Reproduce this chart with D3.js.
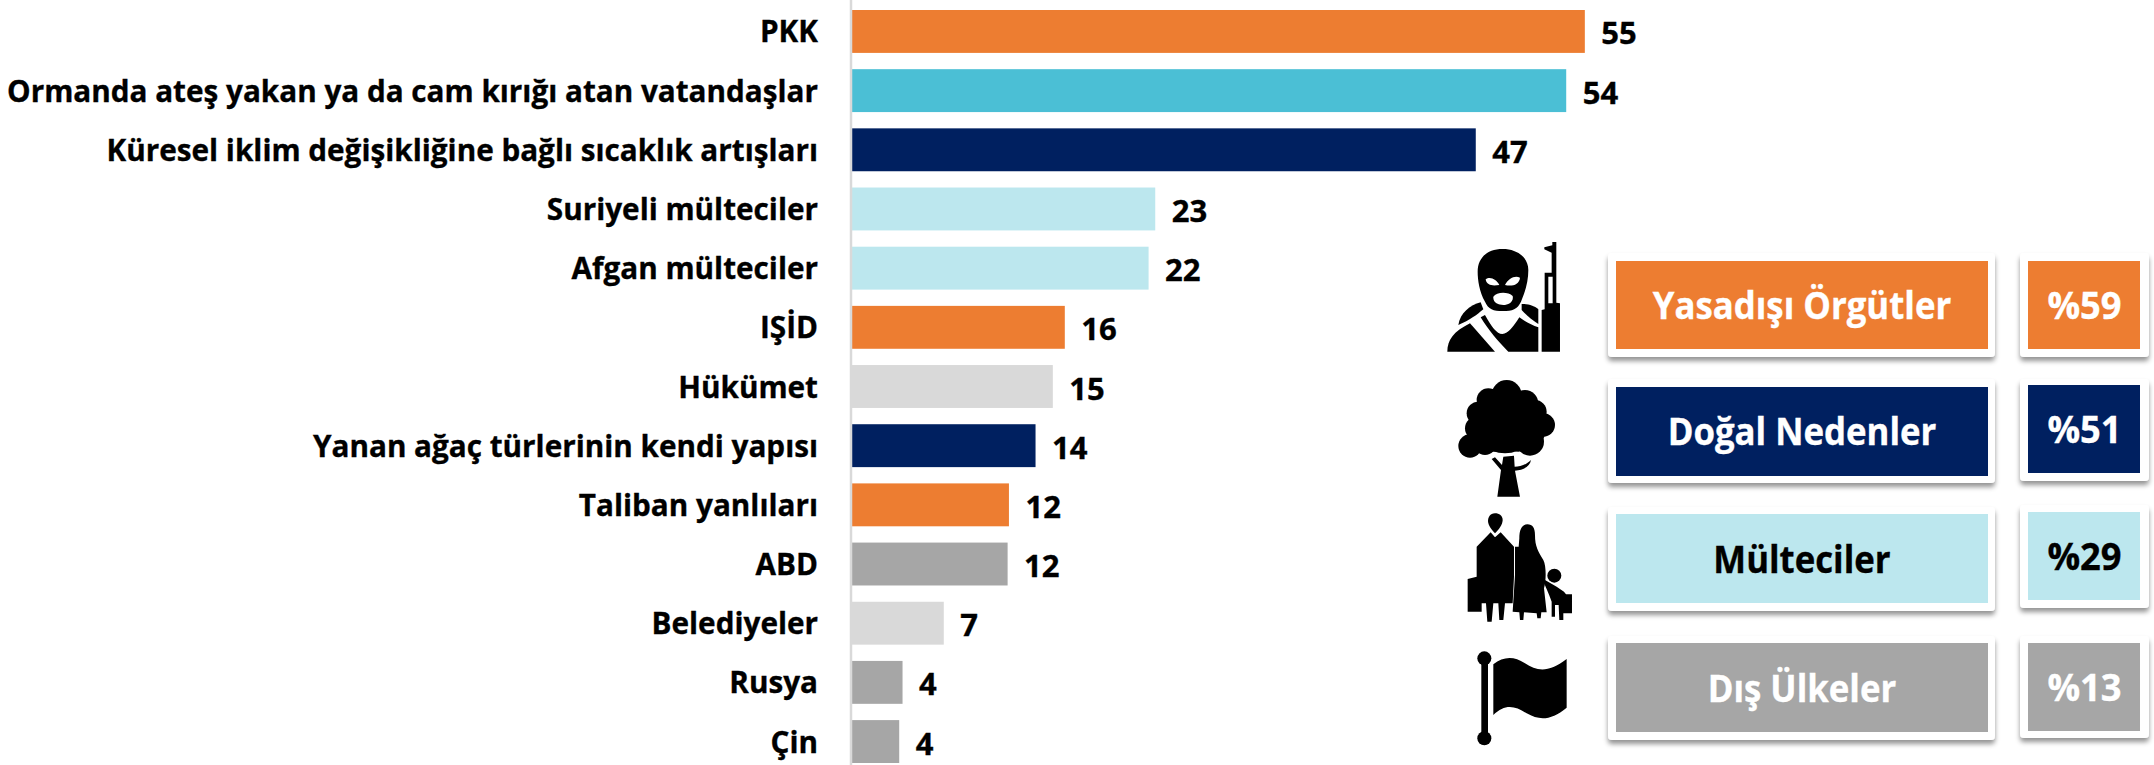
<!DOCTYPE html>
<html lang="tr">
<head>
<meta charset="utf-8">
<script src="https://cdn.jsdelivr.net/npm/d3@7"></script>
<style>
html,body{margin:0;padding:0;background:#fff;overflow:hidden}
svg{display:block}
text{font-family:"Open Sans",sans-serif;font-weight:700;paint-order:stroke;stroke-width:0.35px}
</style>
</head>
<body>
<svg id="chart" width="2154" height="765"></svg>
<script>
const categories = ["PKK","Ormanda ateş yakan ya da cam kırığı atan vatandaşlar","Küresel iklim değişikliğine bağlı sıcaklık artışları","Suriyeli mülteciler","Afgan mülteciler","IŞİD","Hükümet","Yanan ağaç türlerinin kendi yapısı","Taliban yanlıları","ABD","Belediyeler","Rusya","Çin"];
const values = [55.1,53.7,46.9,22.8,22.3,16.0,15.1,13.8,11.8,11.7,6.9,3.8,3.55];
const barColors = ["#ED7D31","#4BBFD5","#002060","#BCE7EE","#BCE7EE","#ED7D31","#D9D9D9","#002060","#ED7D31","#A6A6A6","#D9D9D9","#A6A6A6","#A6A6A6"];

const groupNames = ["Yasadışı Örgütler","Doğal Nedenler","Mülteciler","Dış Ülkeler"];
const groupShares = [59,51,29,13];
const groupFills = ["#ED7D31","#002060","#BCE7EE","#A6A6A6"];
const groupInks = ["#fff","#fff","#000","#fff"];

// layout of the side panel, top/bottom of card and inner fill, baselines
const nameCards = [[253,357,261,349,319],[379,483,387,476,445],[507,611,514,603,573],[636,740,643,732,702]];
const shareCards = [[253,357,261,349,319],[379,481,385,473,443],[505,608,512,600,570],[636,738,643,731,701]];
const iconTops = [230,370,505,635];

const svg = d3.select("#chart");

const defs = svg.append("defs");
const shadow = defs.append("filter").attr("id","cardShadow").attr("x","-10%").attr("y","-10%").attr("width","120%").attr("height","130%");
shadow.append("feDropShadow").attr("dx",0).attr("dy",4).attr("stdDeviation",2.5).attr("flood-color","#000").attr("flood-opacity",0.42);

const x = d3.scaleLinear().domain([0,60]).range([852,852+798]);
const y = d3.scaleBand().domain(categories).range([10,763]).paddingInner(0.275).paddingOuter(0);

svg.append("g").selectAll("rect").data(categories).join("rect")
  .attr("x",x(0)).attr("y",d=>y(d)).attr("height",y.bandwidth())
  .attr("width",(d,i)=>x(values[i])-x(0)).attr("fill",(d,i)=>barColors[i]);

const labelSx = 0.958, labelSize = 31;
const axis = svg.append("g").attr("transform",`translate(${x(0)-1},0)`)
  .call(d3.axisLeft(y).tickSize(0).tickPadding(33));
axis.select(".domain").attr("d","M0,0V765").attr("stroke","#D9D9D9").attr("stroke-width",2.5);
axis.selectAll("text")
  .attr("fill","#000").attr("stroke","#000").attr("font-size",labelSize).style("font-family",'"Open Sans",sans-serif').style("font-weight",700)
  .attr("dy",null).attr("y",11).attr("x",-33/labelSx).attr("transform",`scale(${labelSx},1)`);

const fmt = d3.format(".0f");
svg.append("g").selectAll("text").data(categories).join("text")
  .attr("transform",(d,i)=>`translate(${x(values[i])+16.5},${y(d)+y.bandwidth()/2+13}) scale(1,1)`)
  .attr("font-size",31).attr("fill","#000").attr("stroke","#000")
  .text((d,i)=>fmt(values[i]));

// side panel
const panel = svg.append("g");
function card(x0,x1,ix0,ix1,row,fill){
  panel.append("rect").attr("x",x0).attr("y",row[0]).attr("width",x1-x0).attr("height",row[1]-row[0])
    .attr("rx",4).attr("fill","#fff").attr("filter","url(#cardShadow)");
  panel.append("rect").attr("x",ix0).attr("y",row[2]).attr("width",ix1-ix0).attr("height",row[3]-row[2]).attr("fill",fill);
}
groupNames.forEach((name,i)=>{
  card(1608,1995,1616,1988,nameCards[i],groupFills[i]);
  card(2020,2149,2028,2140,shareCards[i],groupFills[i]);
  panel.append("text").attr("text-anchor","middle")
    .attr("transform",`translate(1802,${nameCards[i][4]}) scale(0.94,1)`)
    .attr("font-size",37).attr("fill",groupInks[i]).attr("stroke",groupInks[i]).text(name);
  panel.append("text").attr("text-anchor","middle")
    .attr("transform",`translate(2084.5,${shareCards[i][4]}) scale(0.98,1)`)
    .attr("font-size",37).attr("fill",groupInks[i]).attr("stroke",groupInks[i]).text("%"+groupShares[i]);
});

// icons, drawn in a 450x390 local box
const iconMarkup = [
`<path fill-rule="evenodd" d="M188 57C140 57 113 85 113 125C113 150 118 185 135 215C145 238 160 243 188 243C218 243 232 238 243 215C258 180 265 150 265 120C265 85 235 57 188 57ZM137 148C150 138 170 148 178 165C160 168 140 168 137 148ZM240 143C225 135 205 145 195 165C215 170 238 165 240 143ZM160 200C170 185 205 185 218 198C222 215 205 225 190 225C175 225 158 218 160 200Z"/>
<path d="M55 285C60 250 90 225 122 217L130 238C110 255 90 270 55 285Z"/>
<path d="M245 222C265 220 285 228 295 238L295 282C275 270 258 255 245 240Z"/>
<path d="M22 365C22 330 40 305 90 280L165 365Z"/>
<path d="M122 262L135 255C155 290 170 312 187 312C205 312 220 290 238 262C255 275 275 285 295 292L295 365L205 365C175 335 145 300 122 262Z"/>
<path fill-rule="evenodd" d="M313 52L337 46L337 36L349 36L349 218L360 220L360 365L305 365L305 240L314 238L314 128L335 128L335 68L313 58ZM325 140L338 140L338 220L325 220Z"/>`,
`<circle cx="200" cy="75" r="45"/><circle cx="145" cy="90" r="35"/><circle cx="255" cy="100" r="40"/><circle cx="115" cy="130" r="35"/><circle cx="285" cy="125" r="35"/><circle cx="310" cy="165" r="35"/><circle cx="110" cy="175" r="35"/><circle cx="90" cy="228" r="35"/><circle cx="135" cy="220" r="35"/><circle cx="195" cy="150" r="100"/><circle cx="270" cy="215" r="42"/><circle cx="200" cy="200" r="45"/><circle cx="110" cy="205" r="30"/><circle cx="165" cy="205" r="40"/><circle cx="235" cy="205" r="40"/><circle cx="285" cy="190" r="30"/>
<path d="M190 260L222 257L224 290C240 290 258 285 273 270C270 290 250 300 225 302L240 380L172 380L183 300L155 267L165 262L186 285Z"/>`,
`<path d="M165 25C150 25 144 38 144 48C144 60 155 75 165 85C175 75 188 60 188 45C188 33 178 25 165 25Z"/>
<path d="M110 125L152 82L165 97L182 82L222 125L222 215L218 295L195 295L190 345L178 345L175 295L160 295L155 350L142 350L138 295L125 295L125 320L83 320L83 222L110 215Z"/>
<path d="M262 58C245 58 238 75 238 100L236 125L225 125L225 210L218 320L238 322L240 345L250 345L252 322L290 325L292 340L302 340L304 322L320 322L312 250C318 230 320 185 310 165C295 140 285 125 285 90C285 70 278 58 262 58Z"/>
<circle cx="343" cy="212" r="21"/>
<path d="M315 225L350 245L372 260L378 268L396 268L396 325L370 325L370 345L358 345L356 300L345 300L345 335L335 335L335 290C325 260 315 245 310 225Z"/>`,
`<rect x="124" y="70" width="20" height="240"/><circle cx="133" cy="70" r="21"/><circle cx="133" cy="310" r="21"/>
<path d="M160 88C190 65 220 62 255 85C290 108 325 115 380 72L380 218C335 255 300 258 260 235C225 212 195 205 160 240Z"/>`
];
iconMarkup.forEach((m,i)=>{
  panel.append("g").attr("transform",`translate(1440,${iconTops[i]}) scale(0.3333)`).attr("fill","#000").html(m);
});
</script>
</body>
</html>
